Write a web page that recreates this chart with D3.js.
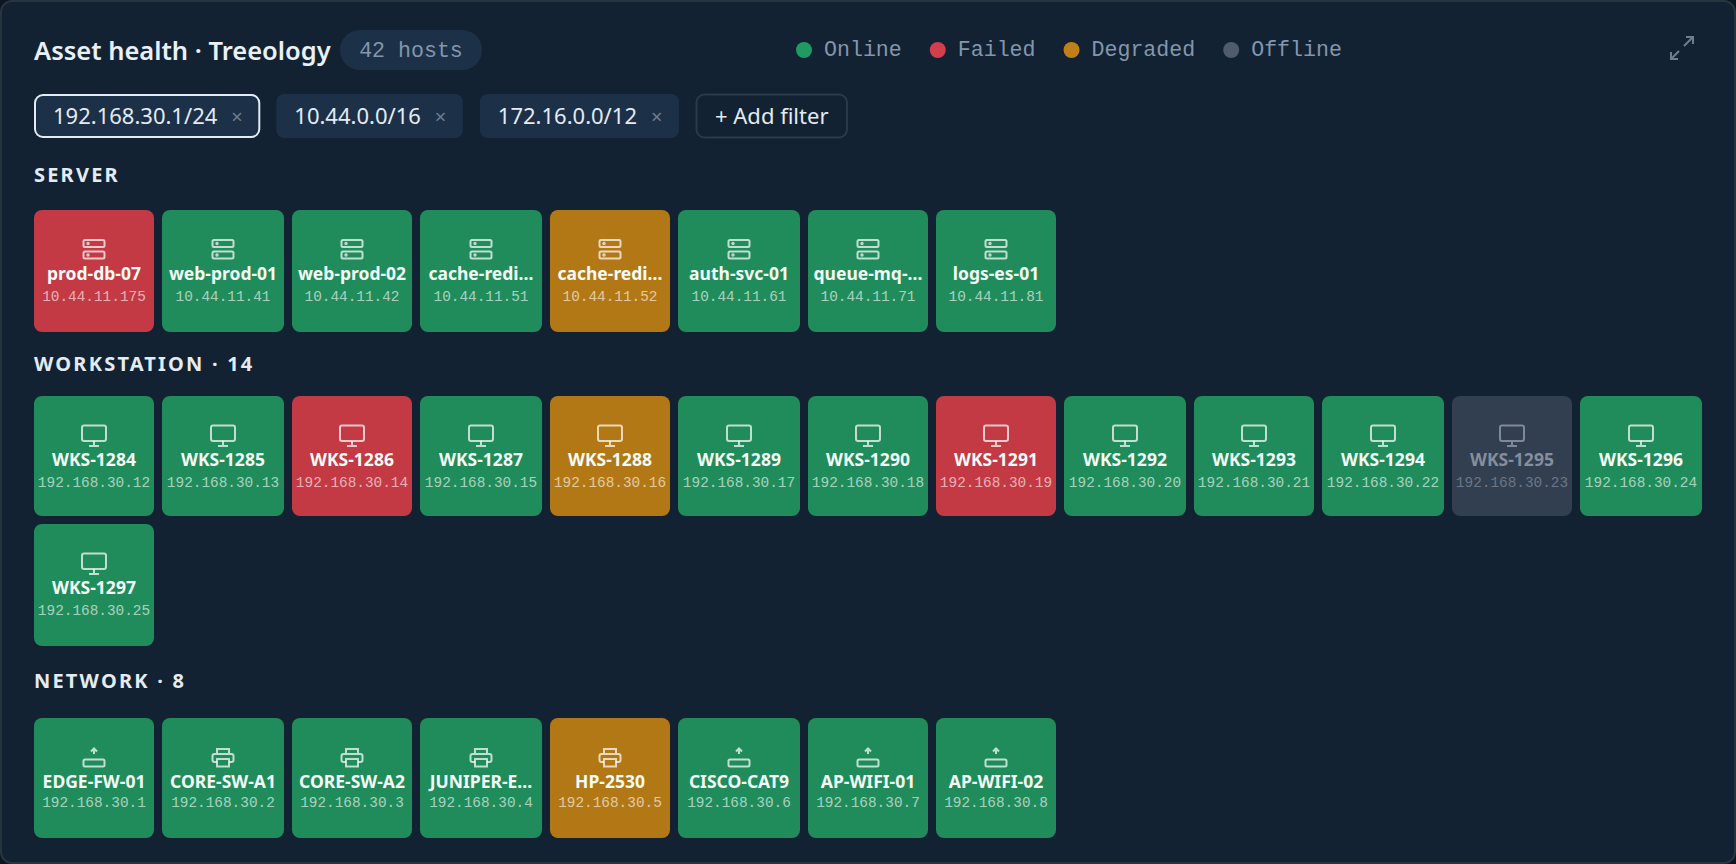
<!DOCTYPE html>
<html>
<head>
<meta charset="utf-8">
<title>Asset health</title>
<script src="https://cdn.jsdelivr.net/npm/d3@7"></script>
<style>
  html, body { margin: 0; padding: 0; background: #0c1620; }
  svg { display: block; }
  .sans { font-family: "Noto Sans", sans-serif; }
  .mono { font-family: "Liberation Mono", monospace; }
</style>
</head>
<body>
<svg id="chart" width="1736" height="864"></svg>
<script>
// data
const statuses = ['Online', 'Failed', 'Degraded', 'Offline'];
const statusColors = ['#218c5b', '#c33a45', '#b37816', '#323f50'];
const legendColors = ['#1f9a63', '#d03f4b', '#c07f17', '#505b70'];
const filters = ['192.168.30.1/24', '10.44.0.0/16', '172.16.0.0/12'];

const serverNames = ['prod-db-07', 'web-prod-01', 'web-prod-02', 'cache-redi…', 'cache-redi…', 'auth-svc-01', 'queue-mq-…', 'logs-es-01'];
const serverIps = ['10.44.11.175', '10.44.11.41', '10.44.11.42', '10.44.11.51', '10.44.11.52', '10.44.11.61', '10.44.11.71', '10.44.11.81'];
const serverStates = ['Failed', 'Online', 'Online', 'Online', 'Degraded', 'Online', 'Online', 'Online'];

const workstationNames = ['WKS-1284', 'WKS-1285', 'WKS-1286', 'WKS-1287', 'WKS-1288', 'WKS-1289', 'WKS-1290', 'WKS-1291', 'WKS-1292', 'WKS-1293', 'WKS-1294', 'WKS-1295', 'WKS-1296', 'WKS-1297'];
const workstationIps = ['192.168.30.12', '192.168.30.13', '192.168.30.14', '192.168.30.15', '192.168.30.16', '192.168.30.17', '192.168.30.18', '192.168.30.19', '192.168.30.20', '192.168.30.21', '192.168.30.22', '192.168.30.23', '192.168.30.24', '192.168.30.25'];
const workstationStates = ['Online', 'Online', 'Failed', 'Online', 'Degraded', 'Online', 'Online', 'Failed', 'Online', 'Online', 'Online', 'Offline', 'Online', 'Online'];

const networkNames = ['EDGE-FW-01', 'CORE-SW-A1', 'CORE-SW-A2', 'JUNIPER-E…', 'HP-2530', 'CISCO-CAT9', 'AP-WIFI-01', 'AP-WIFI-02'];
const networkIps = ['192.168.30.1', '192.168.30.2', '192.168.30.3', '192.168.30.4', '192.168.30.5', '192.168.30.6', '192.168.30.7', '192.168.30.8'];
const networkStates = ['Online', 'Online', 'Online', 'Online', 'Degraded', 'Online', 'Online', 'Online'];
const networkIcons = ['router', 'switch', 'switch', 'switch', 'switch', 'router', 'router', 'router'];

const sections = [
  { label: 'SERVER', names: serverNames, ips: serverIps, states: serverStates, icons: serverNames.map(() => 'server') },
  { label: 'WORKSTATION · 14', names: workstationNames, ips: workstationIps, states: workstationStates, icons: workstationNames.map(() => 'monitor') },
  { label: 'NETWORK · 8', names: networkNames, ips: networkIps, states: networkStates, icons: networkIcons }
];

const svg = d3.select('#chart');
const chartWidth = 1736, chartHeight = 864;
const columns = 13, gap = 8, cardStep = 128.85;

// the picture sits on a 2px pixel grid
const snap = v => 2 * Math.round(v / 2);

const x = d3.scaleBand()
  .domain(d3.range(columns))
  .range([34, 34 + columns * cardStep - gap])
  .paddingInner(gap / cardStep);
const cardSize = x.bandwidth();
const color = d3.scaleOrdinal().domain(statuses).range(statusColors);
const legendColor = d3.scaleOrdinal().domain(statuses).range(legendColors);

// panel
svg.append('rect')
  .attr('x', 1).attr('y', 1)
  .attr('width', chartWidth - 2).attr('height', chartHeight - 2)
  .attr('rx', 11)
  .attr('fill', '#122232')
  .attr('stroke', '#26343f')
  .attr('stroke-width', 2);

// header
svg.append('text').attr('class', 'sans')
  .attr('x', 34).attr('y', 60)
  .attr('font-size', 25.5).attr('font-weight', 600)
  .attr('fill', '#e9f0f7')
  .text('Asset health · Treeology');

svg.append('rect')
  .attr('x', 340).attr('y', 30)
  .attr('width', 142).attr('height', 40)
  .attr('rx', 20)
  .attr('fill', '#1c3048');
svg.append('text').attr('class', 'mono')
  .attr('x', 411).attr('y', 57)
  .attr('text-anchor', 'middle')
  .attr('font-size', 21.6)
  .attr('fill', '#8496ab')
  .text('42 hosts');

// legend
let legendX = 796;
statuses.forEach(s => {
  const g = svg.append('g');
  g.append('circle')
    .attr('cx', legendX + 8).attr('cy', 50).attr('r', 8)
    .attr('fill', legendColor(s));
  const t = g.append('text').attr('class', 'mono')
    .attr('x', legendX + 28).attr('y', 56)
    .attr('font-size', 21.6)
    .attr('fill', '#8496ab')
    .text(s);
  legendX += 28 + t.node().getComputedTextLength() + 28;
});

// expand icon
const expand = svg.append('g')
  .attr('fill', 'none').attr('stroke', '#6b7e92').attr('stroke-width', 2);
expand.append('path').attr('d', 'M1684 46L1693 37M1686 37H1693V44');
expand.append('path').attr('d', 'M1679 51L1671 59M1671 52V59H1678');

// filter chips
let chipX = 35;
filters.forEach((f, i) => {
  const g = svg.append('g');
  const r = g.append('rect')
    .attr('x', chipX).attr('y', i === 0 ? 95 : 94)
    .attr('height', i === 0 ? 42 : 44)
    .attr('rx', 8)
    .attr('fill', '#1c3048')
    .attr('stroke', i === 0 ? '#e4ebf3' : 'none')
    .attr('stroke-width', 2);
  const t = g.append('text').attr('class', 'sans')
    .attr('x', chipX + 18).attr('y', 124)
    .attr('font-size', 22)
    .attr('fill', '#e4ebf3')
    .text(f);
  const tw = t.node().getComputedTextLength();
  g.append('text').attr('class', 'sans')
    .attr('x', chipX + 18 + tw + 14).attr('y', 124)
    .attr('font-size', 20)
    .attr('fill', '#6d7d8f')
    .text('×');
  const w = tw + 60;
  r.attr('width', w);
  chipX += w + 17;
});
const addRect = svg.append('rect')
  .attr('x', chipX + 0.5).attr('y', 94.5)
  .attr('height', 43)
  .attr('rx', 8)
  .attr('fill', 'none')
  .attr('stroke', '#283a4b')
  .attr('stroke-width', 2);
const addText = svg.append('text').attr('class', 'sans')
  .attr('x', chipX + 19).attr('y', 124)
  .attr('font-size', 22)
  .attr('fill', '#e4ebf3')
  .text('+ Add filter');
addRect.attr('width', addText.node().getComputedTextLength() + 37);

// one small drawing per device type, centred on 0,0
const drawIcon = (g, type) => {
  if (type === 'server') {
    [-10, 1.5].forEach(y => {
      g.append('rect').attr('x', -10.5).attr('y', y).attr('width', 21).attr('height', 7).attr('rx', 1.5);
      g.append('circle').attr('cx', -6).attr('cy', y + 3.5).attr('r', 0.7);
    });
  } else if (type === 'monitor') {
    g.append('rect').attr('x', -12).attr('y', -10.5).attr('width', 24).attr('height', 15.5).attr('rx', 2);
    g.append('path').attr('d', 'M0 5V10M-5 10H5');
  } else if (type === 'router') {
    g.append('rect').attr('x', -10.5).attr('y', 1.5).attr('width', 21).attr('height', 7).attr('rx', 1.5);
    g.append('path').attr('d', 'M0 -4V-9M-3 -6.5L0 -9.5L3 -6.5');
  } else {
    g.append('path').attr('d', 'M-6 -4V-9H6V-4M-6 4H-8.5A2 2 0 0 1 -10.5 2V-2A2 2 0 0 1 -8.5 -4H8.5A2 2 0 0 1 10.5 -2V2A2 2 0 0 1 8.5 4H6');
    g.append('rect').attr('x', -6).attr('y', 1).attr('width', 12).attr('height', 7.5);
  }
};

// sections
let sectionTop = 206.9;
sections.forEach(section => {
  svg.append('text').attr('class', 'sans')
    .attr('x', 34).attr('y', sectionTop - 25)
    .attr('font-size', 20).attr('font-weight', 700)
    .attr('letter-spacing', 2.2)
    .attr('fill', '#e4ebf3')
    .text(section.label);

  const rows = Math.ceil(section.names.length / columns);
  const y = d3.scaleBand()
    .domain(d3.range(rows))
    .range([sectionTop, sectionTop + rows * cardStep - gap])
    .paddingInner(gap / cardStep);

  const items = section.names.map((name, i) => ({
    name,
    ip: section.ips[i],
    state: section.states[i],
    icon: section.icons[i],
    col: i % columns,
    row: Math.floor(i / columns)
  }));

  const cards = svg.append('g').selectAll('g').data(items).join('g');

  cards.append('rect')
    .attr('x', d => snap(x(d.col)))
    .attr('y', d => snap(y(d.row)))
    .attr('width', d => snap(x(d.col) + cardSize) - snap(x(d.col)))
    .attr('height', d => snap(y(d.row) + cardSize) - snap(y(d.row)))
    .attr('rx', 8)
    .attr('fill', d => color(d.state));

  const cx = d => (snap(x(d.col)) + snap(x(d.col) + cardSize)) / 2;

  cards.append('g')
    .attr('transform', d => `translate(${cx(d)},${snap(y(d.row) + 40)})`)
    .attr('fill', 'none')
    .attr('stroke', d => d.state === 'Offline' ? '#7f8998' : '#ffffff')
    .attr('stroke-opacity', d => d.state === 'Offline' ? 1 : 0.72)
    .attr('stroke-width', 2)
    .each(function (d) { drawIcon(d3.select(this), d.icon); });

  cards.append('text').attr('class', 'sans')
    .attr('x', cx)
    .attr('y', d => snap(y(d.row) + 70))
    .attr('text-anchor', 'middle')
    .attr('font-size', 17.5).attr('font-weight', 700)
    .attr('fill', d => d.state === 'Offline' ? '#858e9c' : '#f3fbf7')
    .text(d => d.name);

  cards.append('text').attr('class', 'mono')
    .attr('x', cx)
    .attr('y', d => snap(y(d.row) + 89.5) + 0.5)
    .attr('text-anchor', 'middle')
    .attr('font-size', 14.4)
    .attr('fill', d => d.state === 'Offline' ? '#6b7686' : '#ffffff')
    .attr('fill-opacity', d => d.state === 'Offline' ? 1 : 0.62)
    .text(d => d.ip);

  sectionTop += rows * cardStep - gap + 68;
});
</script>
</body>
</html>
